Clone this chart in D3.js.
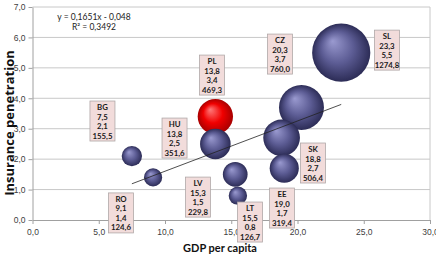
<!DOCTYPE html>
<html><head><meta charset="utf-8">
<script src="https://cdn.jsdelivr.net/npm/d3@7"></script>
<style>body{margin:0;background:#fff}svg{display:block;font-family:Lato,"Open Sans",sans-serif}</style>
</head><body>
<svg id="c" width="436" height="254"></svg>
<script>
const countries = ["SL","CZ","SK","PL","HU","EE","LV","BG","RO","LT"];
const gdp = [23.3,20.3,18.8,13.8,13.8,19.0,15.3,7.5,9.1,15.5];
const penetration = [5.5,3.7,2.7,3.4,2.5,1.7,1.5,2.1,1.4,0.8];
const premium = [1274.8,760.0,506.4,469.3,351.6,319.4,229.8,155.5,124.6,126.7];
const highlight = ["PL"];
const xTicks = [0,5,10,15,20,25,30];
const yTicks = [0,1,2,3,4,5,6,7];
const trend = {slope:0.1651, intercept:-0.048, r2:"0,3492"};
// label box anchors (center x / top y, in data units)
const labelX = [26.75,18.68,21.17,13.55,10.72,18.83,12.49,5.28,6.68,16.42];
const labelY = [6.24,6.11,2.53,5.42,3.35,1.05,1.41,3.91,0.89,0.59];

const svg = d3.select("#c");
const x = d3.scaleLinear().domain([0,30]).range([32.5,430]);
const y = d3.scaleLinear().domain([0,7]).range([220,7]);
const fmt = v => d3.format(".1f")(v).replace(".", ",");

const defs = svg.append("defs");
function grad(id, light, mid, dark){
  const g = defs.append("radialGradient").attr("id",id).attr("cx","50%").attr("cy","50%").attr("r","50%")
    .attr("fx","35%").attr("fy","30%");
  g.append("stop").attr("offset","0%").attr("stop-color",light);
  g.append("stop").attr("offset","55%").attr("stop-color",mid);
  g.append("stop").attr("offset","100%").attr("stop-color",dark);
}
grad("gb","#9a9ad0","#5c5c94","#2c2c56");
grad("gr","#ff7a7a","#f00000","#a80000");

// grid
svg.append("g").selectAll("line").data(yTicks.slice(1)).join("line")
  .attr("x1",x(0)).attr("x2",x(30)).attr("y1",d=>y(d)).attr("y2",d=>y(d))
  .attr("stroke","#c8c8c8").attr("stroke-width",1);
svg.append("line").attr("x1",x(30)).attr("x2",x(30)).attr("y1",y(7)).attr("y2",y(0)).attr("stroke","#c8c8c8");

// axes
const xa = svg.append("g").attr("transform",`translate(0,${y(0)})`)
  .call(d3.axisBottom(x).tickValues(xTicks).tickFormat(fmt).tickSize(4).tickSizeOuter(0));
const ya = svg.append("g").attr("transform",`translate(${x(0)},0)`)
  .call(d3.axisLeft(y).tickValues(yTicks).tickFormat(fmt).tickSize(4).tickSizeOuter(0));
[xa,ya].forEach(a=>{
  a.select(".domain").attr("stroke","#a0a0a0");
  a.selectAll(".tick line").attr("stroke","#a0a0a0");
  a.selectAll("text").attr("fill","#404040").attr("font-size",8.5);
});
xa.selectAll("text").attr("dy","0.9em");

// bubbles
const rs = v => 0.815*Math.sqrt(v);
const idx = d3.range(countries.length).sort((a,b)=>premium[b]-premium[a]);
svg.append("g").selectAll("circle").data(idx).join("circle")
  .attr("cx",i=>x(gdp[i])).attr("cy",i=>y(penetration[i])).attr("r",i=>rs(premium[i]))
  .attr("fill",i=>highlight.includes(countries[i])?"url(#gr)":"url(#gb)");

// trendline
const tx = d3.extent(gdp);
svg.append("line").attr("x1",x(tx[0])).attr("y1",y(trend.slope*tx[0]+trend.intercept))
  .attr("x2",x(tx[1])).attr("y2",y(trend.slope*tx[1]+trend.intercept))
  .attr("stroke","#222").attr("stroke-width",0.8);

// equation
const eq = svg.append("text").attr("x",94).attr("y",20).attr("text-anchor","middle")
  .attr("font-size",8.5).attr("fill","#222");
eq.append("tspan").attr("x",94).text("y = "+String(trend.slope).replace(".",",")+"x - "+String(Math.abs(trend.intercept)).replace(".",","));
eq.append("tspan").attr("x",94).attr("dy",10).text("R² = "+trend.r2);

// labels
const lg = svg.append("g").selectAll("g").data(d3.range(countries.length)).join("g")
  .attr("transform",i=>`translate(${x(labelX[i])},${y(labelY[i])})`);
lg.append("rect").attr("x",-12.5).attr("y",0).attr("width",25).attr("height",40)
  .attr("fill","#f2dcdb").attr("stroke","#b0a8a8").attr("stroke-width",0.8);
lg.each(function(i){
  const g = d3.select(this);
  const lines = [countries[i], fmt(gdp[i]), fmt(penetration[i]), fmt(premium[i])];
  g.selectAll("text").data(lines).join("text").attr("x",0).attr("y",(d,k)=>9+k*9.5)
    .attr("text-anchor","middle").attr("font-size",7.8).attr("font-weight","bold").attr("fill","#1a1a1a")
    .text(d=>d);
});

// axis titles
svg.append("text").attr("x",220).attr("y",252).attr("text-anchor","middle")
  .attr("font-size",11).attr("font-weight","bold").attr("fill","#111").text("GDP per capita");
svg.append("text").attr("transform","translate(14,123) rotate(-90)").attr("text-anchor","middle")
  .attr("font-family","'Open Sans',sans-serif")
  .attr("font-size",13).attr("font-weight","bold").attr("fill","#111").text("Insurance penetration");
</script>
</body></html>
